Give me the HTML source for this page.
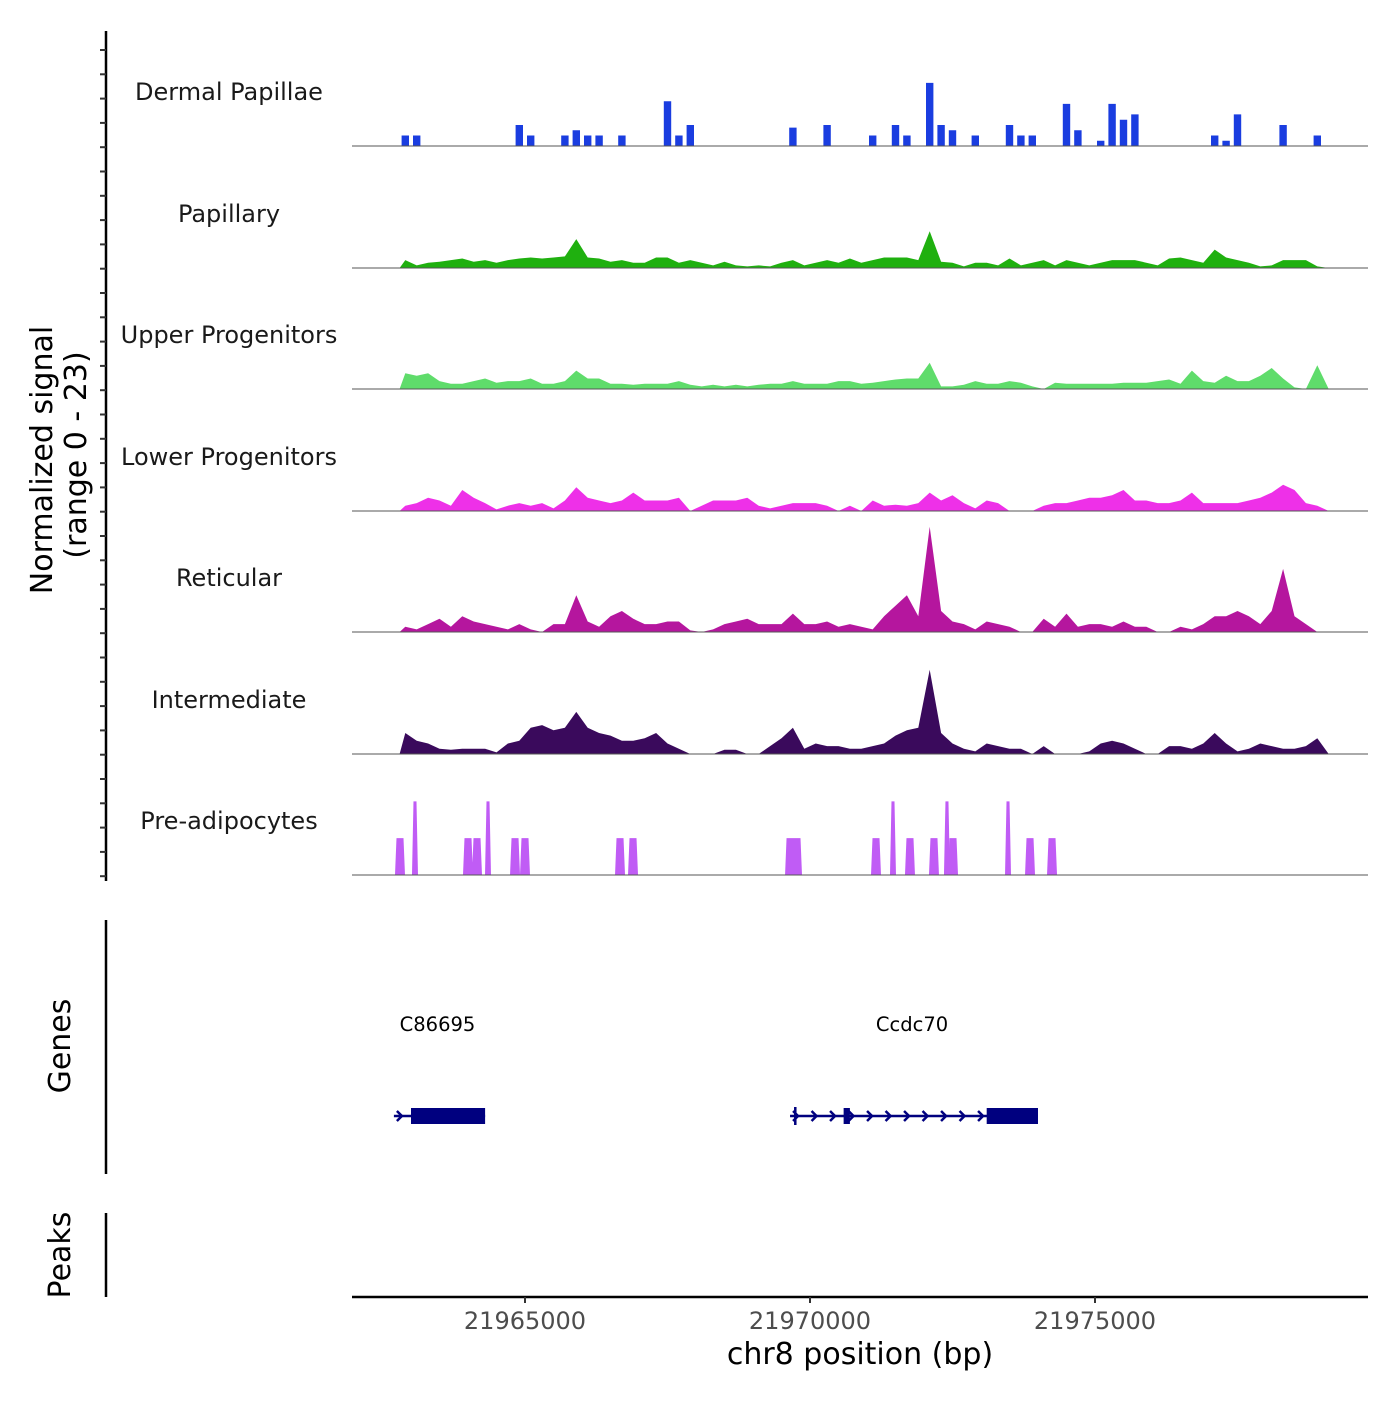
<!DOCTYPE html>
<html><head><meta charset="utf-8">
<style>
html,body{margin:0;padding:0;background:#fff;}
svg text{font-family:"DejaVu Sans","Liberation Sans",sans-serif;}
</style></head>
<body>
<svg id="chart" width="1400" height="1400" viewBox="0 0 1400 1400" xmlns="http://www.w3.org/2000/svg">
<g id="tracks"></g>
<g id="yaxis"></g>
<text transform="translate(52,460) rotate(-90)" text-anchor="middle" font-size="30" fill="#000">Normalized signal</text>
<text transform="translate(86,455) rotate(-90)" text-anchor="middle" font-size="30" fill="#000">(range 0 - 23)</text>
<line x1="106" y1="920" x2="106" y2="1174" stroke="#000" stroke-width="2.5"/>
<text transform="translate(70,1046) rotate(-90)" text-anchor="middle" font-size="30" fill="#000">Genes</text>
<g id="genes"></g>
<line x1="106" y1="1213" x2="106" y2="1297" stroke="#000" stroke-width="2.5"/>
<text transform="translate(70,1255) rotate(-90)" text-anchor="middle" font-size="30" fill="#000">Peaks</text>
<line x1="352" y1="1297" x2="1368" y2="1297" stroke="#000" stroke-width="2.5"/>
<g id="xaxis"></g>
<text x="860" y="1364" text-anchor="middle" font-size="30" fill="#000">chr8 position (bp)</text>
</svg>
<script>
const trackNames = ["Dermal Papillae","Papillary","Upper Progenitors","Lower Progenitors","Reticular","Intermediate","Pre-adipocytes"];
const trackColors = ["#1a3de0","#1fb00f","#5fdc6b","#ee30e8","#b5169e","#3a0a5c","#c05cf5"];
const binStart = 21962800;
const binSize = 200;
const dermalVals = [2,2,0,0,0,0,0,0,0,0,4,2,0,0,2,3,2,2,0,2,0,0,0,8.5,2,4,0,0,0,0,0,0,0,0,3.5,0,0,4,0,0,0,2,0,4,2,0,12,4,3,0,2,0,0,4,2,2,0,0,8,3,0,1,8,5,6,0,0,0,0,0,0,2,1,6,0,0,0,4,0,0,2,0];
const papillaryVals = [1.5,0.5,1,1.2,1.5,1.8,1.2,1.5,1,1.5,1.8,2,1.8,2,2.2,5.5,2,1.8,1.2,1.5,1,1,2,2,1,1.5,1,0.5,1.2,0.5,0.3,0.5,0.3,1,1.5,0.5,1,1.5,1,1.8,1,1.5,2,2,2,1.5,7,1.2,1,0.3,1,1,0.5,1.8,0.5,1,1.5,0.5,1.5,1,0.5,1,1.5,1.5,1.5,1,0.5,1.8,2,1.5,1,3.5,2,1.5,1,0.3,0.5,1.5,1.5,1.5,0.3,0];
const upperVals = [3,2.5,3,1.5,1,1,1.5,2,1.2,1.5,1.5,2,1,1,1.5,3.5,2,2,1,1,0.8,1,1,1,1.5,0.8,0.5,0.8,0.5,0.8,0.5,0.8,1,1,1.5,1,1,1,1.5,1.5,1,1.2,1.5,1.8,2,2,5,0.5,0.5,0.8,1.5,1,1,1.5,1.2,0.5,0,1.2,1,1,1,1,1,1.2,1.2,1.2,1.5,1.8,1,3.5,1.5,1.2,2.5,1.5,1.5,2.5,4,2,0.3,0,4.5,0];
const lowerVals = [1,1.5,2.5,2,1,4,2.5,1.5,0.3,1,1.5,1,1.5,0.5,2,4.5,2.5,2,1.5,2,3.5,2,2,2,2.5,0,1,2,2,2,2.5,1,0.5,1,1.5,1.5,1.5,1,0,1,0,2,1,1.2,1,1.5,3.5,2,3,1.5,0.5,2,1.5,0,0,0,1,1.5,1.5,2,2.5,2.5,3,4,2,2,1.5,1.5,2,3.5,1.5,1.5,1.5,1.5,2,2.5,3.5,5,4,1.5,1,0];
const reticularVals = [1,0.5,1.5,2.5,1,3,2,1.5,1,0.5,1.5,0.5,0,1.5,1.5,7,2,1,3,4,2.5,1.5,1.5,2,2,0.3,0,0.5,1.5,2,2.5,1.5,1.5,1.5,3.5,1.5,1.5,2,1,1.5,1,0.5,3,5,7,3,20,4,2,1.5,0.5,2,1.5,1,0,0,2.5,1,3.5,1,1.5,1.5,1,2,1,1,0,0,1,0.5,1.5,3,3,4,3,1.5,4,12,3,1.5,0,0];
const intermediateVals = [4,2.5,2,1,0.8,1,1,1,0.3,2,2.5,5,5.5,4.5,5,8,5,4,3.5,2.5,2.5,3,4,2,1,0,0,0,0.8,0.8,0,0,1.5,3,5,1,2,1.5,1.5,1,1,1.5,2,3.5,4.5,5,16,4,2,1,0.5,2,1.5,1,1,0,1.5,0,0,0,0.5,2,2.5,2,1,0,0,1.5,1.5,1,2,4,2,0.5,1,2,1.5,1,1,1.5,3,0];
const preadipPos = [21962807,21963070,21964000,21964158,21964351,21964825,21965000,21966667,21966895,21969650,21969772,21971158,21971456,21971754,21972175,21972403,21972509,21973474,21973860,21974246];
const preadipVals = [7,14,7,7,14,7,7,7,7,7,7,7,14,7,7,14,7,14,7,7];
const xTicks = [21965000,21970000,21975000];
const xTickLabels = ["21965000","21970000","21975000"];
const genesStart = [21962700,21969650];
const genesEnd = [21964300,21974000];
const genesNames = ["C86695","Ccdc70"];
const exonStart = [21963000,21969720,21970590,21973100];
const exonEnd = [21964300,21969770,21970700,21974000];
const exonThick = [1,0,1,1];

const NS="http://www.w3.org/2000/svg";
const bpMin=21961965, pxPerBp=0.057, x0=352, x1=1368;
const X = bp => x0 + (bp-bpMin)*pxPerBp;
const baselines=[146,268,389,511,632,754,875];
const pxPerUnit=121/23;
const Y = (v,i) => baselines[i]-v*pxPerUnit;
function mk(tag,attrs,parent){const e=document.createElementNS(NS,tag);for(const k in attrs)e.setAttribute(k,attrs[k]);parent.appendChild(e);return e;}
const tracks=document.getElementById('tracks');
const series=[dermalVals,papillaryVals,upperVals,lowerVals,reticularVals,intermediateVals];
series.forEach((vals,i)=>{
  let pts=[];
  if(i===0){
    pts.push([X(binStart),baselines[i]]);
    vals.forEach((v,j)=>{const a=X(binStart+j*binSize),b=X(binStart+(j+1)*binSize);pts.push([a+2,Y(0,i)],[a+2,Y(v,i)],[b-2,Y(v,i)],[b-2,Y(0,i)]);});
  } else {
    pts.push([X(binStart),baselines[i]]);
    vals.forEach((v,j)=>{pts.push([X(binStart+(j+0.5)*binSize),Y(v,i)]);});
    pts.push([X(binStart+vals.length*binSize),baselines[i]]);
  }
  const p=mk('polygon',{points:pts.map(q=>q[0].toFixed(1)+','+q[1].toFixed(1)).join(' '),fill:trackColors[i]},tracks);
  
  
});
preadipPos.forEach((bp,j)=>{
  const cx=X(bp), v=preadipVals[j], w=v>10?3:5;
  const p=mk('polygon',{points:`${cx-w},875 ${cx-w+1.5},${Y(v,6)} ${cx+w-1.5},${Y(v,6)} ${cx+w},875`,fill:trackColors[6]},tracks);
  
  
});
trackNames.forEach((n,i)=>{
  const l=mk('line',{x1:x0,x2:x1,y1:baselines[i],y2:baselines[i],stroke:'#555','stroke-width':1},tracks);
  
  
  const t=mk('text',{x:229,y:baselines[i]-46,'text-anchor':'middle','font-size':24,fill:'#1a1a1a'},tracks);
  t.textContent=n;
  
  
});
const ya=document.getElementById('yaxis');
const al=mk('line',{x1:106,y1:31,x2:106,y2:881,stroke:'#000','stroke-width':2.5},ya);


for(let k=0;k<35;k++){
  const y=50+k*24.3;
  const t=mk('line',{x1:100,x2:106,y1:y,y2:y,stroke:'#333','stroke-width':2},ya);
  
  
}
const xa=document.getElementById('xaxis');
xTicks.forEach((v,j)=>{
  const t=mk('line',{x1:X(v),x2:X(v),y1:1297,y2:1303,stroke:'#333','stroke-width':2},xa);
  
  
  const l=mk('text',{x:X(v),y:1329,'text-anchor':'middle','font-size':24,fill:'#4d4d4d'},xa);
  l.textContent=xTickLabels[j];
  
  
});
const g=document.getElementById('genes');
const gy=1116, navy='#00007f';
genesStart.forEach((s,j)=>{
  const ln=mk('line',{x1:X(s),x2:X(genesEnd[j]),y1:gy,y2:gy,stroke:navy,'stroke-width':2.5},g);
  
  
  for(let x=X(s)+3;x<X(genesEnd[j])-10;x+=18.5){
    const c=mk('polyline',{points:`${x},${gy-5} ${x+5},${gy} ${x},${gy+5}`,fill:'none',stroke:navy,'stroke-width':2.5},g);
    
    
  }
  const t=mk('text',{x:(X(s)+X(genesEnd[j]))/2-2,y:1031,'text-anchor':'middle','font-size':19.5,fill:'#000'},g);
  t.textContent=genesNames[j];
  
  
});
exonStart.forEach((s,j)=>{
  const h=exonThick[j]?16:18, w=Math.max(3,X(exonEnd[j])-X(s));
  const r=mk('rect',{x:X(s),y:gy-h/2,width:exonThick[j]?w:2.5,height:h,fill:navy},g);
  
  
});
</script>
</body></html>
